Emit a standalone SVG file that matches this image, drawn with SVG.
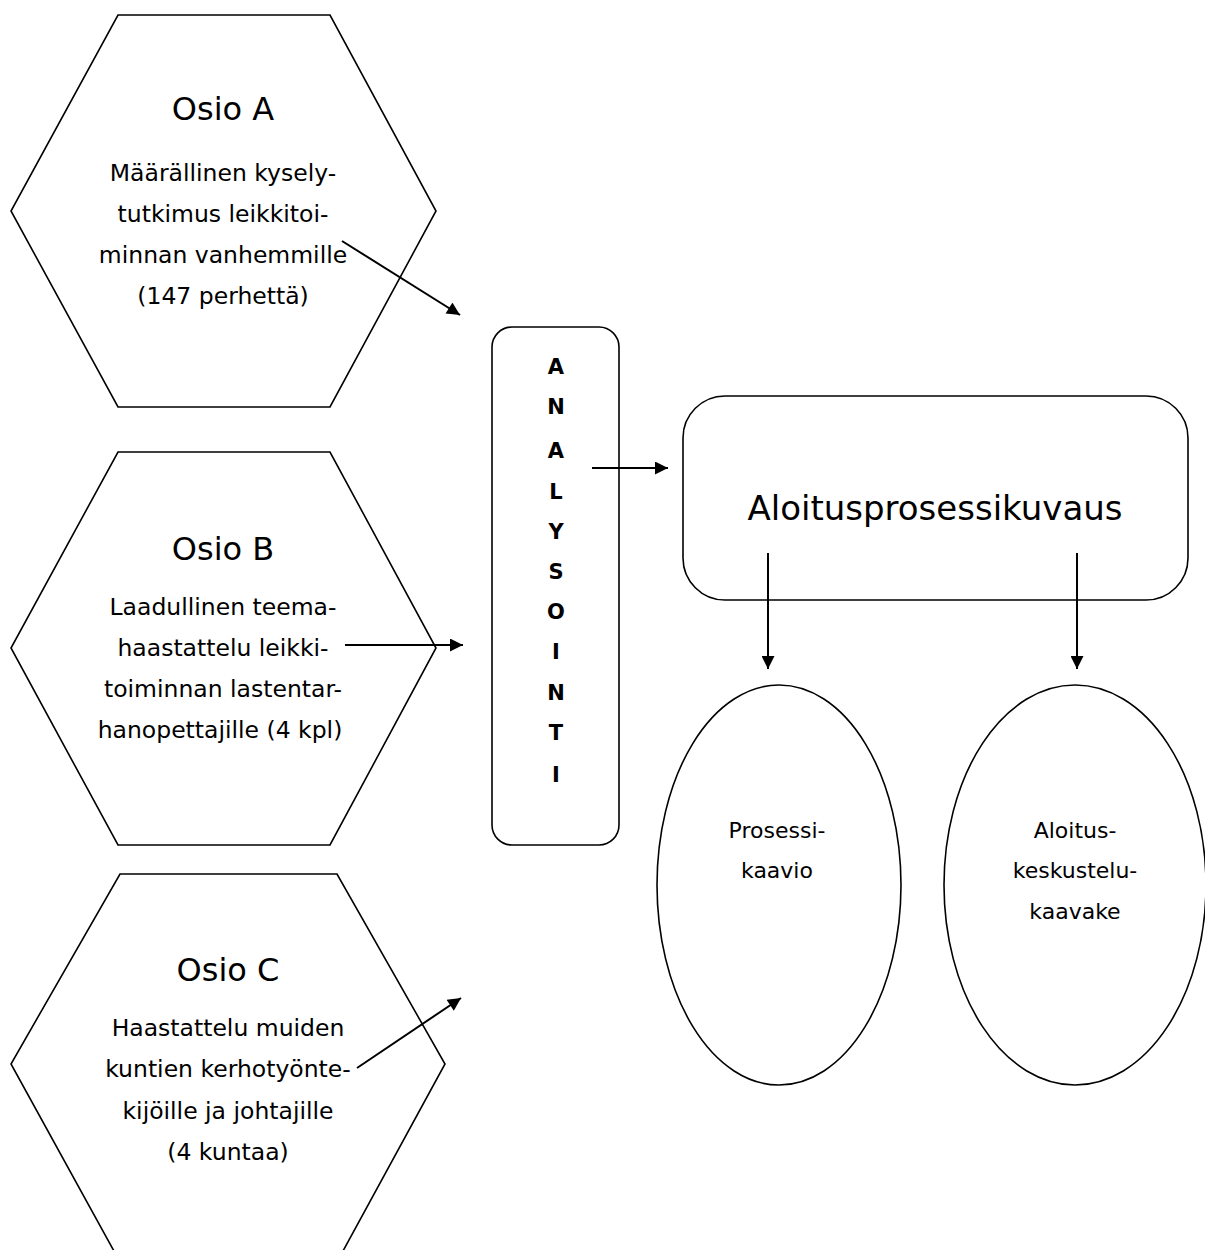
<svg xmlns="http://www.w3.org/2000/svg" width="1205" height="1250" viewBox="0 0 1205 1250">
<style>
.shape{fill:#fff;stroke:#000;stroke-width:1.6}
.t{font-family:"DejaVu Sans","Liberation Sans",sans-serif;fill:#000;text-anchor:middle}
.title{font-size:32px}
.body{font-size:23.5px}
.ell{font-size:22px}
.big{font-size:34px}
.vert{font-size:21px;font-weight:bold}
.conn{stroke:#000;stroke-width:2;fill:none;marker-end:url(#ah)}
</style>
<defs>
<marker id="ah" viewBox="0 0 10 10" refX="10" refY="5" markerWidth="7" markerHeight="6.5" orient="auto" markerUnits="strokeWidth">
<path d="M0,0 L10,5 L0,10 z" fill="#000"/>
</marker>
</defs>
<rect width="1205" height="1250" fill="#fff"/>
<g id="osioA">
<polygon class="shape" points="118,15 330,15 436,211 330,407 118,407 11,211"/>
<text class="t title" x="223" y="120">Osio A</text>
<text class="t body" x="223" y="181">Määrällinen kysely-</text>
<text class="t body" x="223" y="222">tutkimus leikkitoi-</text>
<text class="t body" x="223" y="263">minnan vanhemmille</text>
<text class="t body" x="223" y="304">(147 perhettä)</text>
</g>
<g id="osioB">
<polygon class="shape" points="118,452 330,452 436,648 330,845 118,845 11,648"/>
<text class="t title" x="223" y="560">Osio B</text>
<text class="t body" x="223" y="615">Laadullinen teema-</text>
<text class="t body" x="223" y="656">haastattelu leikki-</text>
<text class="t body" x="223" y="697">toiminnan lastentar-</text>
<text class="t body" x="220" y="738">hanopettajille (4 kpl)</text>
</g>
<g id="osioC">
<polygon class="shape" points="120,874 337,874 445,1064 337,1262 120,1262 11,1064"/>
<text class="t title" x="228" y="981">Osio C</text>
<text class="t body" x="228" y="1036">Haastattelu muiden</text>
<text class="t body" x="228" y="1077">kuntien kerhotyönte-</text>
<text class="t body" x="228" y="1119">kijöille ja johtajille</text>
<text class="t body" x="228" y="1160">(4 kuntaa)</text>
</g>
<g id="analysointi">
<rect class="shape" x="492" y="327" width="127" height="518" rx="20"/>
<text class="t vert" x="556" y="374">A</text>
<text class="t vert" x="556" y="414">N</text>
<text class="t vert" x="556" y="458">A</text>
<text class="t vert" x="556" y="499">L</text>
<text class="t vert" x="556" y="539">Y</text>
<text class="t vert" x="556" y="579">S</text>
<text class="t vert" x="556" y="619">O</text>
<text class="t vert" x="556" y="659">I</text>
<text class="t vert" x="556" y="700">N</text>
<text class="t vert" x="556" y="740">T</text>
<text class="t vert" x="556" y="782">I</text>
</g>
<g id="aloitusprosessikuvaus">
<rect class="shape" x="683" y="396" width="505" height="204" rx="42"/>
<text class="t big" x="935" y="520">Aloitusprosessikuvaus</text>
</g>
<g id="prosessikaavio">
<ellipse class="shape" cx="779" cy="885" rx="122" ry="200"/>
<text class="t ell" x="777" y="838">Prosessi-</text>
<text class="t ell" x="777" y="878">kaavio</text>
</g>
<g id="aloituskeskustelukaavake">
<ellipse class="shape" cx="1075" cy="885" rx="131" ry="200"/>
<text class="t ell" x="1075" y="838">Aloitus-</text>
<text class="t ell" x="1075" y="878">keskustelu-</text>
<text class="t ell" x="1075" y="919">kaavake</text>
</g>
<g id="connectors">
<line class="conn" x1="342" y1="241" x2="460" y2="315"/>
<line class="conn" x1="345" y1="645" x2="463" y2="645"/>
<line class="conn" x1="357" y1="1068" x2="461" y2="998"/>
<line class="conn" x1="592" y1="468" x2="668" y2="468"/>
<line class="conn" x1="768" y1="553" x2="768" y2="669"/>
<line class="conn" x1="1077" y1="553" x2="1077" y2="669"/>
</g>
</svg>
